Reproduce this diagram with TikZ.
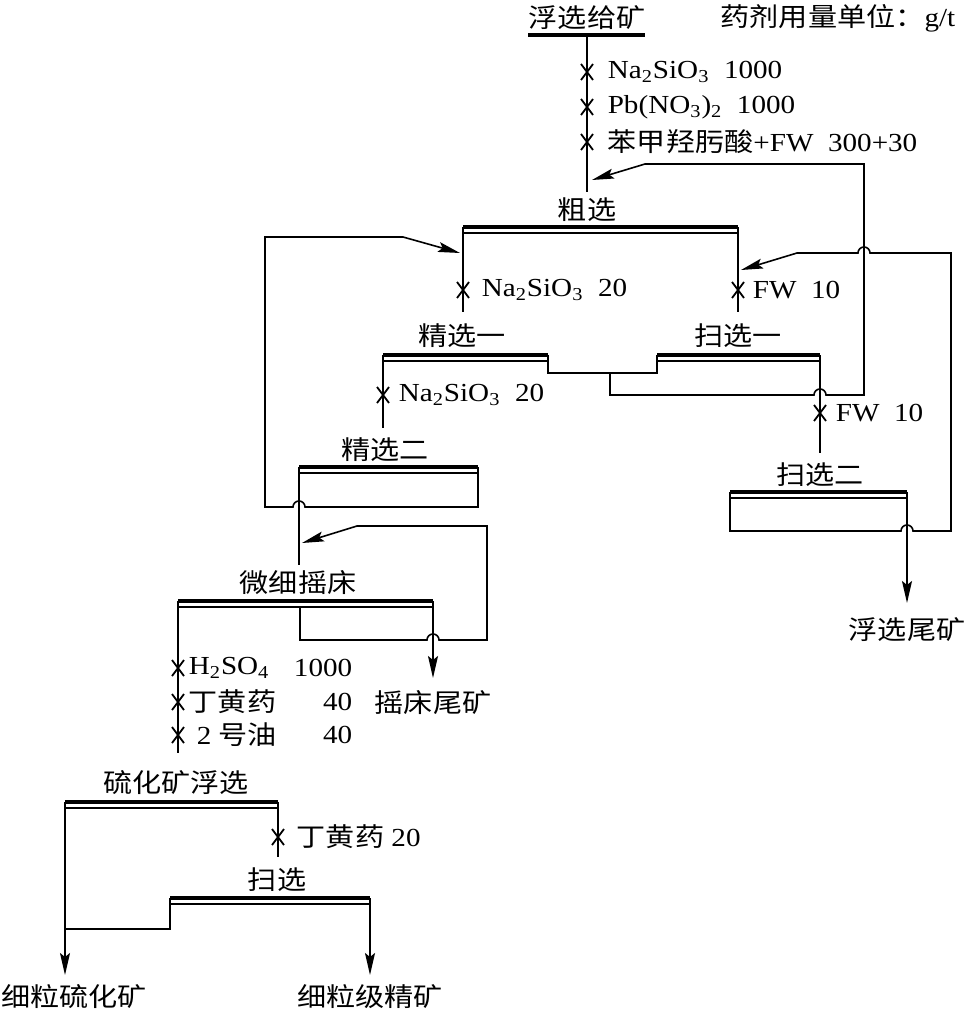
\documentclass[tikz,border=0pt]{standalone}
\usepackage{fontspec}
\setmainfont{Liberation Serif}[FakeStretch=1.12]
\newfontfamily\cjk{Noto Sans CJK SC}[FakeStretch=1.12]
\usetikzlibrary{arrows.meta}
\newcommand{\cellbar}[2]{\draw[bar] (#1) -- (#2); \draw ([yshift=-3pt]#1) -- ([yshift=-3pt]#2);}
\begin{document}
\begin{tikzpicture}[x=0.5pt, y=-0.5pt, line width=0.8pt,
  every node/.style={inner sep=0pt, font=\fontsize{13}{15}\selectfont},
  zh/.style={font=\fontsize{13}{15}\selectfont\cjk},
  bar/.style={line width=1.6pt},
  >={Stealth[length=11pt,width=5pt,inset=2pt]},
  pics/dose/.style={code={\draw[line width=0.9pt] (-6,-8) -- (6,8) (-6,8) -- (6,-8);}}]
\useasboundingbox (0,0) rectangle (975,1017);

\node[zh] (feed) at (587,18) {浮选给矿};
\node (unit) at (838,18) {{\cjk 药剂用量单位：}g/t};
\coordinate (feedL) at (528,35);
\coordinate (feedR) at (645,35);
\coordinate (feedB) at (587,35);
\draw[bar] (feedL) -- (feedR);
\pic at (587,72) {dose};
\pic at (587,107) {dose};
\pic at (587,142) {dose};
\node[anchor=west] (reag1) at (607,72) {Na\textsubscript{2}SiO\textsubscript{3}\ \ 1000};
\node[anchor=west] (reag2) at (607,107) {Pb(NO\textsubscript{3})\textsubscript{2}\ \ 1000};
\node[anchor=west] (reag3) at (607,142) {{\cjk 苯甲羟肟酸}+FW\ \ 300+30};

\node[zh] (rougher) at (587,210) {粗选};
\coordinate (roughIn) at (587,192);
\coordinate (roughFeed) at (592,180);
\coordinate (roughL) at (463,227);
\coordinate (roughR) at (738,227);
\coordinate (roughLin) at (460,253);
\draw (feedB) -- (roughIn);
\cellbar{roughL}{roughR}

\coordinate (cl1In) at (463,312);
\draw (roughL) -- (cl1In);
\pic at (463,290) {dose};
\node[anchor=west] (reag4) at (481,290) {Na\textsubscript{2}SiO\textsubscript{3}\ \ 20};
\coordinate (sc1In) at (738,312);
\coordinate (sc1Feed) at (741,270);
\draw (roughR) -- (sc1In);
\pic at (738,290) {dose};
\node[anchor=west] (reag5) at (752,290) {FW\ \ 10};

\node[zh] (clean1) at (462,336) {精选一};
\coordinate (cl1L) at (383,355);
\coordinate (cl1R) at (548,355);
\cellbar{cl1L}{cl1R}
\node[zh] (scav1) at (738,336) {扫选一};
\coordinate (sc1L) at (657,355);
\coordinate (sc1R) at (820,355);
\cellbar{sc1L}{sc1R}
\coordinate (mid) at (610,373);
\draw (cl1R) |- (mid) -| (sc1L);
\draw[->] (mid) -- (610,395) -- (814,395) arc[start angle=180,end angle=0,radius=3pt]
  -- (864,395) -- (864,164) -- (645,164) -- (roughFeed);

\coordinate (cl2In) at (383,428);
\draw (cl1L) -- (cl2In);
\pic at (383,395) {dose};
\node[anchor=west] (reag6) at (398,395) {Na\textsubscript{2}SiO\textsubscript{3}\ \ 20};
\coordinate (sc2In) at (820,453);
\draw (sc1R) -- (sc2In);
\pic at (820,413) {dose};
\node[anchor=west] (reag7) at (835,413) {FW\ \ 10};

\node[zh] (clean2) at (385,450) {精选二};
\coordinate (cl2L) at (299,467);
\coordinate (cl2R) at (478,467);
\cellbar{cl2L}{cl2R}
\draw[->] (cl2R) -- (478,507) -- (305,507) arc[start angle=0,end angle=180,radius=3pt]
  -- (265,507) -- (265,237) -- (403,237) -- (roughLin);

\node[zh] (scav2) at (820,475) {扫选二};
\coordinate (sc2L) at (730,492);
\coordinate (sc2R) at (907,492);
\cellbar{sc2L}{sc2R}
\draw[->] (sc2L) -- (730,531) -- (901,531) arc[start angle=180,end angle=0,radius=3pt]
  -- (951,531) -- (951,253) -- (870,253) arc[start angle=0,end angle=180,radius=3pt]
  -- (797,253) -- (sc1Feed);
\node[zh] (ftail) at (907,630) {浮选尾矿};
\draw[->] (sc2R) -- (907,603);

\coordinate (tabIn) at (299,565);
\draw (cl2L) -- (tabIn);
\node[zh] (table) at (298,583) {微细摇床};
\coordinate (tabL) at (178,601);
\coordinate (tabR) at (433,601);
\coordinate (tabM) at (300,607);
\coordinate (tabFeed) at (302,543);
\cellbar{tabL}{tabR}
\draw[->] (tabM) -- (300,640) -- (427,640) arc[start angle=180,end angle=0,radius=3pt]
  -- (487,640) -- (487,526) -- (357,526) -- (tabFeed);
\node[zh] (ttail) at (433,703) {摇床尾矿};
\draw[->] (tabR) -- (433,678);

\coordinate (sfIn) at (178,753);
\draw (tabL) -- (sfIn);
\pic at (178,668) {dose};
\pic at (178,702) {dose};
\pic at (178,735) {dose};
\node[anchor=west] (reag8) at (188,668) {H\textsubscript{2}SO\textsubscript{4}};
\node[anchor=east] (dose8) at (353,668) {1000};
\node[anchor=west,zh] (reag9) at (188,702) {丁黄药};
\node[anchor=east] (dose9) at (353,702) {40};
\node[anchor=west] (reag10) at (196,735) {2\ {\cjk 号油}};
\node[anchor=east] (dose10) at (353,735) {40};

\node[zh] (sulf) at (176,783) {硫化矿浮选};
\coordinate (sfL) at (65,802);
\coordinate (sfR) at (278,802);
\cellbar{sfL}{sfR}
\coordinate (ssIn) at (278,857);
\draw (sfR) -- (ssIn);
\pic at (278,837) {dose};
\node[anchor=west] (reag11) at (296,837) {{\cjk 丁黄药} 20};

\node[zh] (sscav) at (277,880) {扫选};
\coordinate (ssL) at (170,898);
\coordinate (ssR) at (370,898);
\cellbar{ssL}{ssR}
\draw (ssL) -- (170,929) -- (65,929);
\node[zh] (sprod) at (74,997) {细粒硫化矿};
\node[zh] (cprod) at (370,997) {细粒级精矿};
\draw[->] (sfL) -- (65,975);
\draw[->] (ssR) -- (370,975);
\end{tikzpicture}
\end{document}
